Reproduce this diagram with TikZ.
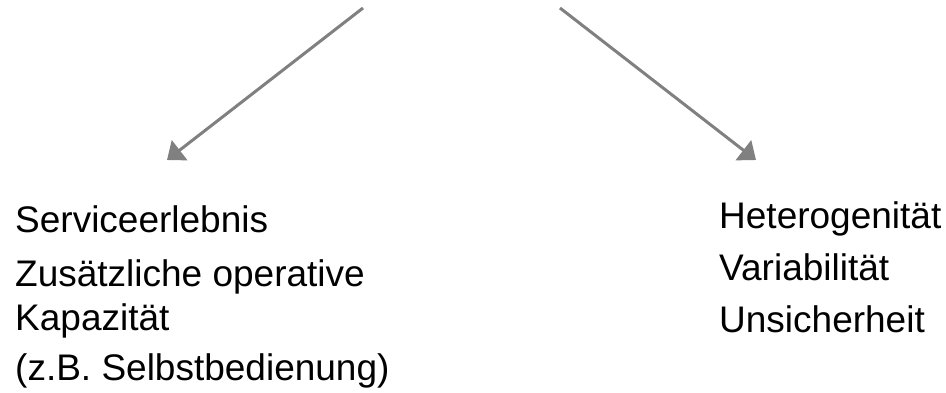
\documentclass[tikz,border=0pt]{standalone}
\usepackage{fontspec}
\setmainfont{Liberation Sans}
\usetikzlibrary{arrows.meta, positioning}
\definecolor{arrowgray}{HTML}{808080}

\begin{document}
\begin{tikzpicture}[
  x=1pt, y=1pt,
  item/.style={anchor=base west, inner sep=0pt, font=\fontsize{37}{44}\selectfont},
  arrow/.style={-{Triangle[length=16pt, width=25pt]}, line width=3pt, arrowgray}
]
\useasboundingbox (0,0) rectangle (946,392);

\coordinate (topL) at (363,384);
\coordinate (topR) at (560,384);
\coordinate (tipL) at (167,232);
\coordinate (tipR) at (756,232);

% left column
\node[item] (erlebnis) at (15,160) {Serviceerlebnis};
\node[item] (zusatz) at (15,106) {Zusätzliche operative};
\node[item] (kapaz) at (15,62) {Kapazität};
\node[item] (selbst) at (15,12) {(z.B. Selbstbedienung)};

% right column
\node[item] (hetero) at (719,164) {Heterogenität};
\node[item] (variab) at (719,112) {Variabilität};
\node[item] (unsich) at (719,60) {Unsicherheit};

\draw[arrow] (topL) -- (tipL);
\draw[arrow] (topR) -- (tipR);

\end{tikzpicture}
\end{document}
